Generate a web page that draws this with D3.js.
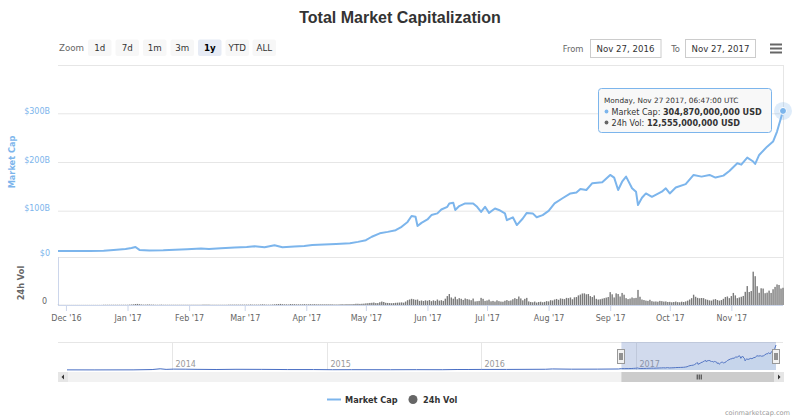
<!DOCTYPE html>
<html>
<head>
<meta charset="utf-8">
<script src="https://cdnjs.cloudflare.com/ajax/libs/d3/7.8.5/d3.min.js"></script>
<style>
  html, body { margin: 0; padding: 0; background: #fff; }
  svg { display: block; font-family: "DejaVu Sans", sans-serif; }
</style>
</head>
<body>
<svg id="chart" width="800" height="418"></svg>
<script>
// ---------------- DATA ----------------
const title = "Total Market Capitalization";
const zoomButtons = ["1d", "7d", "1m", "3m", "1y", "YTD", "ALL"];
const selectedButton = "1y";
const fromLabel = "Nov 27, 2016";
const toLabel = "Nov 27, 2017";
const yTicks = [0, 100, 200, 300];            // $B
const yTickLabels = ["$0", "$100B", "$200B", "$300B"];
const monthTicks = ["2016-12-01","2017-01-01","2017-02-01","2017-03-01","2017-04-01","2017-05-01",
  "2017-06-01","2017-07-01","2017-08-01","2017-09-01","2017-10-01","2017-11-01"];
const monthLabels = ["Dec '16","Jan '17","Feb '17","Mar '17","Apr '17","May '17",
  "Jun '17","Jul '17","Aug '17","Sep '17","Oct '17","Nov '17"];
const navYears = ["2014-01-01","2015-01-01","2016-01-01","2017-01-01"];
const navYearLabels = ["2014","2015","2016","2017"];

// Market cap (billions USD) over the selected year
const mcDates = ["2016-11-27","2016-12-05","2016-12-13","2016-12-20","2016-12-25","2016-12-31","2017-01-03","2017-01-05","2017-01-07","2017-01-12",
"2017-01-19","2017-01-25","2017-01-31","2017-02-07","2017-02-11","2017-02-17","2017-02-24","2017-03-02","2017-03-06","2017-03-11",
"2017-03-16","2017-03-20","2017-03-26","2017-03-31","2017-04-04","2017-04-10","2017-04-16","2017-04-23","2017-04-27","2017-05-01",
"2017-05-04","2017-05-08","2017-05-12","2017-05-16","2017-05-19","2017-05-22","2017-05-24","2017-05-26","2017-05-27","2017-05-29",
"2017-06-01","2017-06-03","2017-06-06","2017-06-08","2017-06-11","2017-06-12","2017-06-14","2017-06-15","2017-06-17","2017-06-20",
"2017-06-24","2017-06-26","2017-06-28","2017-06-30","2017-07-02","2017-07-05","2017-07-07","2017-07-10","2017-07-11","2017-07-14",
"2017-07-16","2017-07-19","2017-07-21","2017-07-24","2017-07-26","2017-07-29","2017-08-01","2017-08-04","2017-08-08","2017-08-12",
"2017-08-15","2017-08-17","2017-08-20","2017-08-23","2017-08-28","2017-09-01","2017-09-03","2017-09-05","2017-09-07","2017-09-09",
"2017-09-12","2017-09-14","2017-09-15","2017-09-17","2017-09-19","2017-09-22","2017-09-27","2017-09-29","2017-10-01","2017-10-04",
"2017-10-09","2017-10-13","2017-10-17","2017-10-21","2017-10-24","2017-10-28","2017-10-31","2017-11-04","2017-11-06","2017-11-09",
"2017-11-12","2017-11-13","2017-11-15","2017-11-19","2017-11-22","2017-11-24","2017-11-27"];
const mcValues = [17,17.3,17.5,18,19.5,21.5,23.5,25.5,19.5,18.5,
19,20,21,22.5,21.5,23,24.5,25.5,27,25,
29,25,26.5,27.5,29.5,30.5,31.5,33,36,39.5,
46.5,53.5,56.5,60,67,77,89,87.5,68.5,75,
82,91,94.5,102.5,108,115,116.5,101.5,109.5,115,
115,108,97.5,108,95.5,104.5,101.5,94.5,80.5,86.5,
70.5,84,95.5,94.5,86.5,91,99.5,115,125.5,135.5,
137.5,144.5,142.5,156.5,158.5,173.5,168,142.5,159.5,170,
146,139,111.5,126.5,135.5,128.5,139,146,135.5,147.5,
154.5,173.5,170,173.5,168,172,181.5,197.5,194.5,209,
201,196,214.5,231.5,242,262.5,304.87];

// Earlier history shown only in the navigator (billions USD)
const histDates = ["2013-04-28","2013-07-01","2013-10-01","2013-11-15","2013-12-04","2013-12-18","2014-01-05","2014-02-01","2014-03-01","2014-04-15",
"2014-06-01","2014-08-01","2014-10-01","2014-12-01","2015-01-15","2015-03-01","2015-06-01","2015-08-01","2015-10-01","2015-11-05",
"2015-12-01","2016-01-01","2016-03-01","2016-06-01","2016-06-17","2016-08-01","2016-10-01","2016-11-20"];
const histValues = [1.6,1.2,1.8,5.5,15,7.5,11,10,8,6,
8.5,7.5,5.5,5.5,3.5,4,3.6,4.2,3.8,6,
6,7,7,9,13,10,10.5,12.5];

// Daily 24h volume (billions USD), Nov 27 2016 .. Nov 27 2017
const volStart = "2016-11-27";
const volNov16 = [0.1,0.1,0.1,0.1];
const volDec16 = [0.1,0.1,0.1,0.1,0.1,0.1,0.1,0.1,0.1,0.1,0.1,0.1,0.1,0.1,0.1,0.1,0.1,0.1,0.1,0.2,0.2,0.2,0.2,0.2,0.2,0.2,0.2,0.2,0.2,0.2,0.2];
const volJan17 = [0.2,0.3,0.4,0.5,0.7,0.8,0.6,0.4,0.3,0.3,0.4,0.4,0.3,0.3,0.2,0.2,0.2,0.3,0.2,0.2,0.2,0.2,0.2,0.2,0.2,0.2,0.2,0.2,0.2,0.2,0.2];
const volFeb17 = [0.2,0.2,0.2,0.2,0.2,0.2,0.2,0.3,0.3,0.3,0.3,0.2,0.2,0.2,0.2,0.2,0.2,0.2,0.2,0.2,0.3,0.3,0.3,0.3,0.3,0.3,0.3,0.3];
const volMar17 = [0.3,0.3,0.3,0.4,0.3,0.3,0.3,0.3,0.4,0.5,0.4,0.3,0.3,0.3,0.4,0.5,0.6,0.7,0.8,0.6,0.5,0.5,0.4,0.7,0.6,0.6,0.5,0.5,0.5,0.5,0.6];
const volApr17 = [0.5,0.5,0.6,0.5,0.6,0.5,0.5,0.5,0.5,0.5,0.5,0.5,0.5,0.5,0.4,0.4,0.4,0.5,0.6,0.5,0.6,0.6,0.6,0.6,0.7,0.9,0.9,0.8,0.9,1.0];
const volMay17 = [1.2,1.3,1.5,1.6,1.8,1.4,1.4,2.0,2.5,2.2,1.6,1.5,1.4,1.3,1.4,1.6,1.7,1.8,1.9,1.7,2.5,3.5,4.0,4.5,4.2,3.8,4.0,3.0,3.3,2.9,3.4];
const volJun17 = [3.1,3.6,2.8,3.4,3.0,4.0,3.2,3.5,3.0,4.6,6.5,8.0,5.5,4.6,6.0,4.2,5.0,4.5,3.7,4.8,4.3,4.0,3.5,4.7,2.6,2.8,3.0,5.2,4.5,3.0];
const volJul17 = [3.3,3.9,2.7,3.0,2.5,3.4,2.8,2.5,2.4,3.1,3.6,3.0,3.3,4.2,5.0,4.4,6.2,4.8,3.4,4.5,5.2,2.6,2.2,2.0,2.5,1.8,2.2,2.4,2.0,2.3,2.8];
const volAug17 = [2.6,3.5,3.3,4.0,4.4,3.8,4.8,4.5,4.3,5.2,5.0,5.5,4.2,5.6,5.8,7.0,7.6,8.4,8.5,7.8,8.0,6.5,5.8,7.0,4.5,4.0,4.2,4.6,5.0,5.4,5.8];
const volSep17 = [9.4,7.8,5.5,8.5,8.0,6.2,8.8,7.5,5.0,4.3,4.7,5.5,5.0,5.2,11.0,6.0,4.0,3.6,3.2,3.0,3.8,2.8,2.5,2.6,2.4,3.0,2.8,2.5,2.6,2.2];
const volOct17 = [2.3,2.0,2.2,2.5,2.1,2.0,2.4,2.2,2.6,3.2,4.0,5.0,7.5,6.0,5.2,4.9,5.1,5.0,4.2,3.8,3.4,3.2,4.0,4.3,3.6,3.2,3.6,4.5,5.8,6.2,5.0];
const volNov17 = [6.5,8.8,7.0,5.0,5.5,6.0,6.6,9.6,13.8,9.5,10.2,24.3,21.0,13.7,8.9,12.2,12.0,8.6,9.0,10.5,8.8,11.5,13.2,15.0,14.6,12.0,12.555];

const legendItems = ["Market Cap", "24h Vol"];
const tooltipHeader = "Monday, Nov 27 2017, 06:47:00 UTC";
const tooltipMc = "304,870,000,000 USD";
const tooltipVol = "12,555,000,000 USD";
const credits = "coinmarketcap.com";

// ---------------- BUILD ----------------
const parse = d3.utcParse("%Y-%m-%d");
const mc = mcDates.map((d, i) => ({ date: parse(d), v: mcValues[i] }));
const hist = histDates.map((d, i) => ({ date: parse(d), v: histValues[i] }));
const volAll = [].concat(volNov16, volDec16, volJan17, volFeb17, volMar17, volApr17, volMay17,
  volJun17, volJul17, volAug17, volSep17, volOct17, volNov17);
const v0 = parse(volStart);
const vol = volAll.map((v, i) => ({ date: d3.utcDay.offset(v0, i), v }));

const svg = d3.select("#chart");
const blue = "#7cb5ec";

const L = 58, R = 783;
const topY = 65, volTop = 257, volBottom = 305;

const x = d3.scaleUtc().domain([parse("2016-11-27"), parse("2017-11-27")]).range([L, R]);
const y = d3.scaleLinear().domain([0, 300]).range([259.4, 113.3]);
const yv = d3.scaleLinear().domain([0, 35]).range([volBottom, volTop]);

// Title
svg.append("text").attr("x", 400).attr("y", 23).attr("text-anchor", "middle")
  .style("font-family", "'Liberation Sans', Arial, sans-serif")
  .style("font-size", "16px").style("font-weight", "bold").attr("fill", "#333").text(title);

// Range selector
svg.append("text").attr("x", 59).attr("y", 51).style("font-size", "8.7px").attr("fill", "#666").text("Zoom");
const btnX = [88, 115.5, 143, 170.5, 198, 225.5, 252.5];
zoomButtons.forEach((b, i) => {
  const sel = b === selectedButton;
  const g = svg.append("g");
  g.append("rect").attr("x", btnX[i]).attr("y", 39.5).attr("width", 23.5).attr("height", 16.5)
    .attr("rx", 2).attr("fill", sel ? "#e6ebf5" : "#f7f7f7");
  g.append("text").attr("x", btnX[i] + 11.75).attr("y", 51).attr("text-anchor", "middle")
    .style("font-size", "8.7px").style("font-weight", sel ? "bold" : "normal")
    .attr("fill", sel ? "#000" : "#333").text(b);
});
svg.append("text").attr("x", 583.5).attr("y", 51.5).attr("text-anchor", "end").style("font-size", "8.4px").attr("fill", "#666").text("From");
svg.append("rect").attr("x", 590.5).attr("y", 39.5).attr("width", 70.5).attr("height", 18).attr("fill", "#fff").attr("stroke", "#ccc");
svg.append("text").attr("x", 625.5).attr("y", 51.5).attr("text-anchor", "middle").style("font-size", "8.6px").attr("fill", "#333").text(fromLabel);
svg.append("text").attr("x", 680).attr("y", 51.5).attr("text-anchor", "end").style("font-size", "8.4px").attr("fill", "#666").text("To");
svg.append("rect").attr("x", 685.5).attr("y", 39.5).attr("width", 70).attr("height", 18).attr("fill", "#fff").attr("stroke", "#ccc");
svg.append("text").attr("x", 720.5).attr("y", 51.5).attr("text-anchor", "middle").style("font-size", "8.6px").attr("fill", "#333").text(toLabel);
[44.5, 48.5, 52.5].forEach(yy => svg.append("line").attr("x1", 770).attr("x2", 782).attr("y1", yy).attr("y2", yy)
  .attr("stroke", "#666").attr("stroke-width", 2));

// Frame lines
svg.append("line").attr("x1", L).attr("x2", R).attr("y1", topY + 0.5).attr("y2", topY + 0.5).attr("stroke", "#e6e6e6");
svg.append("line").attr("x1", R + 0.5).attr("x2", R + 0.5).attr("y1", topY).attr("y2", volBottom).attr("stroke", "#e6e6e6");

// Market cap gridlines + labels
const yAxis = d3.axisLeft(y).tickValues(yTicks.filter(t => t > 0)).tickSize(-(R - L)).tickFormat(d => yTickLabels[yTicks.indexOf(d)]);
const gy = svg.append("g").attr("transform", `translate(${L},0)`).call(yAxis);
gy.select(".domain").remove();
gy.selectAll(".tick line").attr("stroke", "#e6e6e6");
gy.selectAll(".tick text").attr("x", -8).attr("dy", "0").attr("y", 0).attr("fill", blue)
  .style("font-size", "8px").style("font-family", "'DejaVu Sans', sans-serif");
// $0 label (its gridline coincides with the volume panel top)
svg.append("text").attr("x", L - 8).attr("y", 256).attr("text-anchor", "end").style("font-size", "8px")
  .attr("fill", blue).text(yTickLabels[0]);

svg.append("text").attr("transform", `translate(15,162) rotate(-90)`).attr("text-anchor", "middle")
  .style("font-size", "8.2px").style("font-weight", "bold").attr("fill", blue).text("Market Cap");

// Volume panel
svg.append("line").attr("x1", L).attr("x2", R).attr("y1", volTop + 0.5).attr("y2", volTop + 0.5).attr("stroke", "#e6e6e6");
svg.append("line").attr("x1", L + 0.5).attr("x2", L + 0.5).attr("y1", volTop).attr("y2", volBottom).attr("stroke", "#ccd6eb");
svg.append("text").attr("x", 47).attr("y", 304).attr("text-anchor", "end").style("font-size", "8px").attr("fill", "#666").text("0");
svg.append("text").attr("transform", `translate(24,283) rotate(-90)`).attr("text-anchor", "middle")
  .style("font-size", "8.2px").style("font-weight", "bold").attr("fill", "#666").text("24h Vol");

svg.append("g").selectAll("rect").data(vol).join("rect")
  .attr("x", d => x(d.date) - 0.7).attr("width", 1.4)
  .attr("y", d => yv(d.v)).attr("height", d => volBottom - yv(d.v))
  .attr("fill", "#7a7a7a");

// X axis
const xAxis = d3.axisBottom(x).tickValues(monthTicks.map(parse)).tickSize(6)
  .tickFormat((d, i) => monthLabels[i]);
const gx = svg.append("g").attr("transform", `translate(0,${volBottom})`).call(xAxis);
gx.select(".domain").attr("stroke", "#ccd6eb").attr("d", `M${L},0.5H${R}`);
gx.selectAll(".tick line").attr("stroke", "#ccd6eb");
gx.selectAll(".tick text").attr("y", 10).attr("fill", "#666").style("font-size", "8px")
  .style("font-family", "'DejaVu Sans', sans-serif");

// Market cap line
const line = d3.line().x(d => x(d.date)).y(d => y(d.v));
svg.append("path").datum(mc).attr("d", line).attr("fill", "none").attr("stroke", blue)
  .attr("stroke-width", 2).attr("stroke-linejoin", "round");

// Hover marker
const last = mc[mc.length - 1];
svg.append("circle").attr("cx", x(last.date)).attr("cy", y(last.v)).attr("r", 9).attr("fill", blue).attr("fill-opacity", 0.25);
svg.append("circle").attr("cx", x(last.date)).attr("cy", y(last.v)).attr("r", 3.5).attr("fill", blue).attr("stroke", "#fff").attr("stroke-width", 1);

// Tooltip
const tt = svg.append("g");
tt.append("rect").attr("x", 598.5).attr("y", 88.5).attr("width", 173).attr("height", 44).attr("rx", 3)
  .attr("fill", "rgba(247,247,247,0.9)").attr("stroke", blue);
tt.append("text").attr("x", 604).attr("y", 102.5).style("font-size", "7.3px").attr("fill", "#333").text(tooltipHeader);
tt.append("circle").attr("cx", 606.5).attr("cy", 111.5).attr("r", 1.9).attr("fill", blue);
const t2 = tt.append("text").attr("x", 611.5).attr("y", 114.5).style("font-size", "8.1px").attr("fill", "#333");
t2.append("tspan").text("Market Cap: ");
t2.append("tspan").style("font-weight", "bold").text(tooltipMc);
tt.append("circle").attr("cx", 606.5).attr("cy", 122.5).attr("r", 1.9).attr("fill", "#666");
const t3 = tt.append("text").attr("x", 611.5).attr("y", 125.5).style("font-size", "8.1px").attr("fill", "#333");
t3.append("tspan").text("24h Vol: ");
t3.append("tspan").style("font-weight", "bold").text(tooltipVol);

// Navigator
const navTop = 342, navBottom = 370;
const nx = d3.scaleUtc().domain([parse("2013-04-28"), parse("2017-11-27")]).range([67, 776]);
const ny = d3.scaleLinear().domain([0, 304.87]).range([navBottom, 345]);
svg.append("line").attr("x1", L).attr("x2", R).attr("y1", navTop + 0.5).attr("y2", navTop + 0.5).attr("stroke", "#e6e6e6");
navYears.forEach((d, i) => {
  const xx = Math.round(nx(parse(d))) + 0.5;
  svg.append("line").attr("x1", xx).attr("x2", xx).attr("y1", navTop).attr("y2", navBottom).attr("stroke", "#e6e6e6");
  svg.append("text").attr("x", xx + 3).attr("y", 367).style("font-size", "8px").attr("fill", "#999").text(navYearLabels[i]);
});
const navData = hist.concat(mc);
svg.append("path").datum(navData)
  .attr("d", d3.area().x(d => nx(d.date)).y0(navBottom).y1(d => ny(d.v)))
  .attr("fill", "rgba(68,170,213,0.08)");
svg.append("path").datum(navData)
  .attr("d", d3.line().x(d => nx(d.date)).y(d => ny(d.v)))
  .attr("fill", "none").attr("stroke", "#4a6fc4").attr("stroke-width", 1);
const mx0 = nx(parse("2016-11-27")), mx1 = nx(parse("2017-11-27"));
svg.append("rect").attr("x", mx0).attr("y", navTop).attr("width", mx1 - mx0).attr("height", navBottom - navTop)
  .attr("fill", "rgba(102,133,194,0.3)");
[mx0, mx1].forEach(hx => {
  svg.append("rect").attr("x", Math.round(hx) - 3.5).attr("y", 349.5).attr("width", 7).attr("height", 14)
    .attr("fill", "#f2f2f2").attr("stroke", "#999");
  svg.append("line").attr("x1", Math.round(hx) - 1).attr("x2", Math.round(hx) - 1).attr("y1", 353).attr("y2", 360).attr("stroke", "#333");
  svg.append("line").attr("x1", Math.round(hx) + 1).attr("x2", Math.round(hx) + 1).attr("y1", 353).attr("y2", 360).attr("stroke", "#333");
});
// Scrollbar
svg.append("rect").attr("x", L).attr("y", 372).attr("width", R - L + 1).attr("height", 10).attr("fill", "#f2f2f2");
svg.append("rect").attr("x", mx0).attr("y", 372).attr("width", mx1 - mx0).attr("height", 10).attr("fill", "#ccc");
[-2, 0, 2].forEach(o => svg.append("line").attr("x1", (mx0 + mx1) / 2 + o + 0.5).attr("x2", (mx0 + mx1) / 2 + o + 0.5)
  .attr("y1", 374.5).attr("y2", 379.5).attr("stroke", "#333"));
svg.append("rect").attr("x", L).attr("y", 372).attr("width", 10).attr("height", 10).attr("fill", "#e6e6e6");
svg.append("path").attr("d", `M${L + 6},374.5L${L + 3.5},377L${L + 6},379.5Z`).attr("fill", "#333");
svg.append("rect").attr("x", R - 9).attr("y", 372).attr("width", 10).attr("height", 10).attr("fill", "#e6e6e6");
svg.append("path").attr("d", `M${R - 5},374.5L${R - 2.5},377L${R - 5},379.5Z`).attr("fill", "#333");

// Legend
svg.append("line").attr("x1", 327).attr("x2", 341).attr("y1", 399.5).attr("y2", 399.5).attr("stroke", blue).attr("stroke-width", 2);
svg.append("text").attr("x", 345).attr("y", 402.5).style("font-size", "8.2px").style("font-weight", "bold").attr("fill", "#333").text(legendItems[0]);
svg.append("circle").attr("cx", 413).attr("cy", 399.5).attr("r", 4.5).attr("fill", "#666");
svg.append("text").attr("x", 423).attr("y", 402.5).style("font-size", "8.2px").style("font-weight", "bold").attr("fill", "#333").text(legendItems[1]);

// Credits
svg.append("text").attr("x", 790).attr("y", 415).attr("text-anchor", "end").style("font-size", "6.6px").attr("fill", "#999").text(credits);
</script>
</body>
</html>
